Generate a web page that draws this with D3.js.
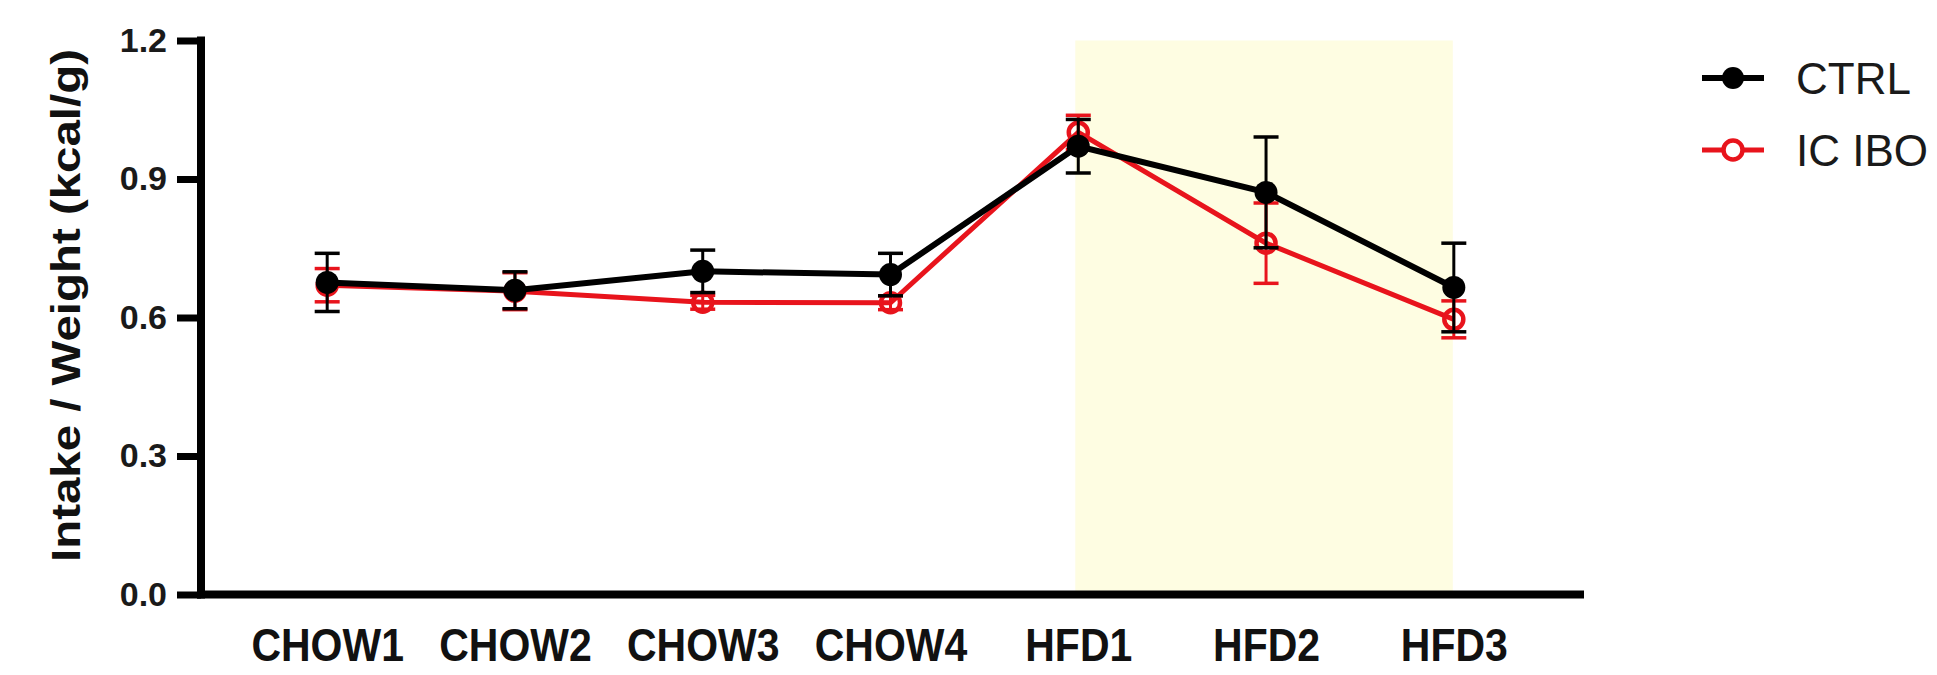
<!DOCTYPE html>
<html>
<head>
<meta charset="utf-8">
<script src="https://cdn.jsdelivr.net/npm/d3@7/dist/d3.min.js"></script>
<style>
  html, body { margin: 0; padding: 0; background: #ffffff; }
  svg { display: block; }
  text { font-family: "Liberation Sans", Arial, Helvetica, sans-serif; }
</style>
</head>
<body>
<svg id="chart" width="1937" height="675"></svg>
<script>
// ---- data ----
const categories = ["CHOW1", "CHOW2", "CHOW3", "CHOW4", "HFD1", "HFD2", "HFD3"];
const ctrlMean = [0.676, 0.659, 0.700, 0.693, 0.971, 0.871, 0.665];
const ctrlErr  = [0.063, 0.040, 0.046, 0.046, 0.058, 0.120, 0.096];
const icMean   = [0.670, 0.657, 0.633, 0.632, 1.001, 0.761, 0.596];
const icErr    = [0.036, 0.040, 0.015, 0.015, 0.037, 0.087, 0.040];
const yTicks   = [0.0, 0.3, 0.6, 0.9, 1.2];
const shadedFrom = "HFD1", shadedTo = "HFD3";
const seriesNames = ["CTRL", "IC IBO"];

const black = "#000000", red = "#e8141c";

const svg = d3.select("#chart");
const plotLeft = 201, plotRight = 1580, plotTop = 40.5, plotBottom = 594.5;

const x = d3.scalePoint().domain(categories).range([plotLeft, plotRight]).padding(0.672);
const y = d3.scaleLinear().domain([0, 1.2]).range([plotBottom, plotTop]);

// shaded HFD region
svg.append("rect")
  .attr("x", x(shadedFrom) - 3)
  .attr("y", y(1.2))
  .attr("width", x(shadedTo) - x(shadedFrom) + 2)
  .attr("height", y(0) - y(1.2))
  .attr("fill", "#fefde2");

// axes
const yAxis = svg.append("g")
  .attr("transform", `translate(${plotLeft},0)`)
  .call(d3.axisLeft(y).tickValues(yTicks).tickFormat(d3.format(".1f")).tickSize(24).tickPadding(10));
yAxis.select(".domain").attr("d", `M0,${plotTop}V${plotBottom}`).attr("stroke", black).attr("stroke-width", 8).attr("stroke-linecap", "square");
yAxis.selectAll(".tick line").attr("stroke", black).attr("stroke-width", 7);
yAxis.selectAll(".tick text")
  .attr("font-size", 34).attr("font-weight", "bold").attr("fill", "#1a1a1a");

const xAxis = svg.append("g")
  .attr("transform", `translate(0,${plotBottom})`)
  .call(d3.axisBottom(x).tickSize(0).tickPadding(0));
xAxis.select(".domain").attr("d", `M${plotLeft},0H${plotRight}`).attr("stroke", black).attr("stroke-width", 8).attr("stroke-linecap", "square");
xAxis.selectAll(".tick text")
  .attr("font-size", 41).attr("font-weight", "bold").attr("fill", "#111")
  .attr("y", 0).attr("dy", 0)
  .attr("transform", "translate(0,66) scale(1,1.12)");

// y axis label
svg.append("text")
  .attr("transform", `translate(80,305.5) rotate(-90)`)
  .attr("text-anchor", "middle")
  .attr("font-size", 40)
  .attr("font-weight", "bold")
  .attr("fill", "#111")
  .attr("textLength", 513)
  .attr("lengthAdjust", "spacingAndGlyphs")
  .text("Intake / Weight (kcal/g)");

function drawSeries(means, errs, color, filled) {
  const g = svg.append("g");
  const pts = categories.map((c, i) => ({ c, m: means[i], e: errs[i] }));
  const eb = g.selectAll(".eb").data(pts).enter().append("g");
  eb.append("line")
    .attr("x1", d => x(d.c)).attr("x2", d => x(d.c))
    .attr("y1", d => y(d.m + d.e)).attr("y2", d => y(d.m - d.e))
    .attr("stroke", color).attr("stroke-width", 3);
  [1, -1].forEach(s => {
    eb.append("line")
      .attr("x1", d => x(d.c) - 12.5).attr("x2", d => x(d.c) + 12.5)
      .attr("y1", d => y(d.m + s * d.e)).attr("y2", d => y(d.m + s * d.e))
      .attr("stroke", color).attr("stroke-width", 3.5);
  });
  g.append("path")
    .datum(pts)
    .attr("d", d3.line().x(d => x(d.c)).y(d => y(d.m)))
    .attr("fill", "none").attr("stroke", color).attr("stroke-width", filled ? 6 : 5);
  g.selectAll(".pt").data(pts).enter().append("circle")
    .attr("cx", d => x(d.c)).attr("cy", d => y(d.m))
    .attr("r", filled ? 11.5 : 9.5)
    .attr("fill", filled ? color : "none")
    .attr("stroke", color).attr("stroke-width", filled ? 0 : 4.5);
}

drawSeries(icMean, icErr, red, false);
drawSeries(ctrlMean, ctrlErr, black, true);

// legend
const legend = svg.append("g");
const legendRows = [
  { name: seriesNames[0], color: black, filled: true, yy: 78 },
  { name: seriesNames[1], color: red, filled: false, yy: 150 }
];
legendRows.forEach(r => {
  legend.append("line").attr("x1", 1702).attr("x2", 1764).attr("y1", r.yy).attr("y2", r.yy)
    .attr("stroke", r.color).attr("stroke-width", r.filled ? 6 : 5);
  legend.append("circle").attr("cx", 1733).attr("cy", r.yy).attr("r", r.filled ? 11 : 9.5)
    .attr("fill", r.filled ? r.color : "#fff").attr("stroke", r.color).attr("stroke-width", r.filled ? 0 : 4.5);
  legend.append("text").attr("x", 1796).attr("y", r.yy).attr("dy", "0.36em")
    .attr("font-size", 44).attr("fill", "#1a1a1a").text(r.name);
});
</script>
</body>
</html>
